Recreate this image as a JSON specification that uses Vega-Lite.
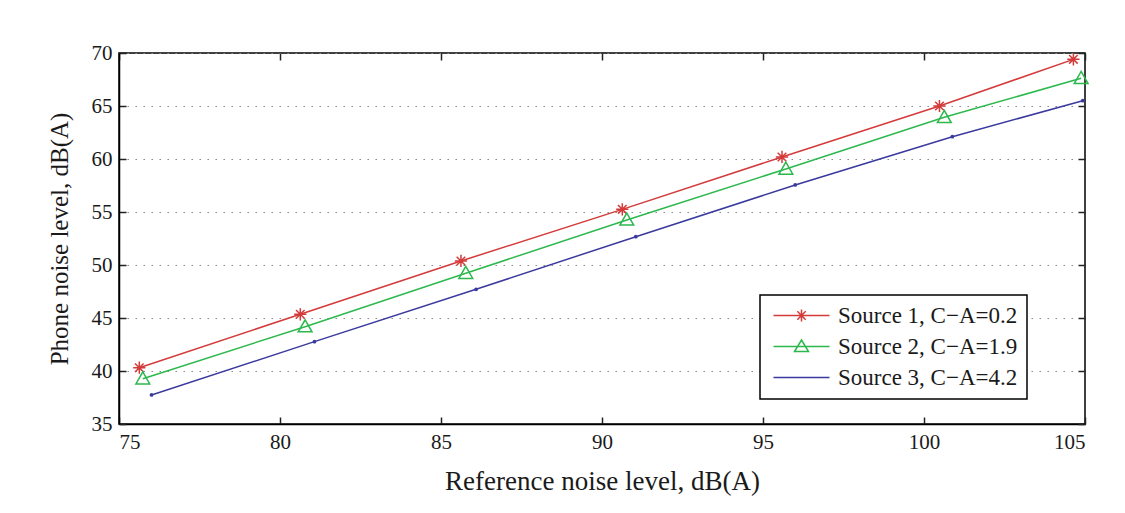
{
  "$schema": "https://vega.github.io/schema/vega-lite/v6.json",
  "width": 966,
  "height": 371,
  "autosize": "none",
  "padding": {"left": 119, "top": 53, "right": 40, "bottom": 89},
  "background": "white",
  "config": {
    "view": {"stroke": "black", "strokeWidth": 1.5},
    "font": "Liberation Serif",
    "axis": {
      "labelFont": "Liberation Serif",
      "labelFontSize": 21,
      "labelColor": "#1a1a1a",
      "titleFont": "Liberation Serif",
      "titleFontWeight": "normal",
      "titleColor": "#1a1a1a",
      "domainColor": "black",
      "domainWidth": 1.5,
      "tickColor": "#222",
      "tickWidth": 1.5,
      "tickSize": -7,
      "labelPadding": 14
    },
    "legend": {
      "labelFont": "Liberation Serif",
      "labelFontSize": 23,
      "labelColor": "#1a1a1a",
      "labelLimit": 400
    }
  },
  "data": {
    "values": [
      {"series": "Source 1, C−A=0.2", "x": 75.63, "y": 40.31},
      {"series": "Source 1, C−A=0.2", "x": 80.63, "y": 45.35},
      {"series": "Source 1, C−A=0.2", "x": 85.62, "y": 50.38},
      {"series": "Source 1, C−A=0.2", "x": 90.63, "y": 55.25},
      {"series": "Source 1, C−A=0.2", "x": 95.59, "y": 60.19},
      {"series": "Source 1, C−A=0.2", "x": 100.48, "y": 65.0},
      {"series": "Source 1, C−A=0.2", "x": 104.64, "y": 69.4},
      {"series": "Source 2, C−A=1.9", "x": 75.74, "y": 39.27},
      {"series": "Source 2, C−A=1.9", "x": 80.78, "y": 44.18},
      {"series": "Source 2, C−A=1.9", "x": 85.77, "y": 49.22},
      {"series": "Source 2, C−A=1.9", "x": 90.77, "y": 54.25},
      {"series": "Source 2, C−A=1.9", "x": 95.71, "y": 59.06},
      {"series": "Source 2, C−A=1.9", "x": 100.63, "y": 63.93},
      {"series": "Source 2, C−A=1.9", "x": 104.88, "y": 67.61},
      {"series": "Source 3, C−A=4.2", "x": 76.01, "y": 37.74},
      {"series": "Source 3, C−A=4.2", "x": 81.07, "y": 42.77},
      {"series": "Source 3, C−A=4.2", "x": 86.09, "y": 47.71},
      {"series": "Source 3, C−A=4.2", "x": 91.05, "y": 52.67},
      {"series": "Source 3, C−A=4.2", "x": 96.0, "y": 57.55},
      {"series": "Source 3, C−A=4.2", "x": 100.88, "y": 62.1},
      {"series": "Source 3, C−A=4.2", "x": 104.93, "y": 65.5}
    ]
  },
  "layer": [
    {
      "mark": {"type": "line", "strokeWidth": 1.5},
      "encoding": {
        "x": {
          "field": "x", "type": "quantitative",
          "scale": {"domain": [75, 105], "nice": false, "zero": false},
          "axis": {"values": [75, 80, 85, 90, 95, 100, 105], "grid": false, "title": "Reference noise level, dB(A)", "titleFontSize": 27, "titlePadding": 16}
        },
        "y": {
          "field": "y", "type": "quantitative",
          "scale": {"domain": [35, 70], "nice": false, "zero": false},
          "axis": {"values": [35, 40, 45, 50, 55, 60, 65, 70], "grid": true, "gridDash": [1.5, 6.5], "gridColor": "#888", "gridWidth": 1.2, "title": "Phone noise level, dB(A)", "titleFontSize": 25, "titlePadding": 19}
        },
        "color": {
          "field": "series", "type": "nominal",
          "scale": {"domain": ["Source 1, C−A=0.2", "Source 2, C−A=1.9", "Source 3, C−A=4.2"], "range": ["#d43a3a", "#2db84d", "#3a3a9e"]},
          "legend": {
            "title": null,
            "orient": "none",
            "legendX": 641,
            "legendY": 242,
            "strokeColor": "black",
            "fillColor": "white",
            "padding": 9,
            "symbolSize": 400,
            "symbolStrokeWidth": 1.5,
            "labelOffset": 46,
            "rowPadding": 7,
            "encode": {
              "legend": {"update": {"strokeWidth": {"value": 1.5}}},
              "symbols": {
                "update": {
                  "shape": {"signal": "indexof(datum.value, 'Source 1') === 0 ? 'M-0.7,0L4.9,0M1.5,0L2.7,0M2.1,-0.6L2.1,0.6M1.68,-0.42L2.52,0.42M1.68,0.42L2.52,-0.42' : indexof(datum.value, 'Source 2') === 0 ? 'M-0.7,0L4.9,0M2.1,-0.65L2.8,0.5L1.4,0.5Z' : 'M-0.7,0L4.9,0M2.0,0L2.2,0'"},
                  "fill": {"value": "transparent"},
                  "strokeWidth": {"value": 1.5},
                  "opacity": {"value": 1}
                }
              }
            }
          }
        }
      }
    },
    {
      "transform": [{"filter": "indexof(datum.series, 'Source 1') === 0"}],
      "mark": {"type": "point", "filled": false, "strokeWidth": 1.5, "opacity": 1, "color": "#d43a3a", "size": 150, "shape": "M-1,0L1,0M0,-1L0,1M-0.7,-0.7L0.7,0.7M-0.7,0.7L0.7,-0.7"},
      "encoding": {
        "x": {"field": "x", "type": "quantitative", "axis": null},
        "y": {"field": "y", "type": "quantitative", "axis": null}
      }
    },
    {
      "transform": [{"filter": "indexof(datum.series, 'Source 2') === 0"}],
      "mark": {"type": "point", "filled": false, "strokeWidth": 1.5, "opacity": 1, "color": "#2db84d", "size": 190, "shape": "M0,-1L1,0.75L-1,0.75Z"},
      "encoding": {
        "x": {"field": "x", "type": "quantitative", "axis": null},
        "y": {"field": "y", "type": "quantitative", "axis": null}
      }
    },
    {
      "transform": [{"filter": "indexof(datum.series, 'Source 3') === 0"}],
      "mark": {"type": "point", "filled": true, "opacity": 1, "color": "#3a3a9e", "size": 14, "shape": "circle"},
      "encoding": {
        "x": {"field": "x", "type": "quantitative", "axis": null},
        "y": {"field": "y", "type": "quantitative", "axis": null}
      }
    },
    {
      "mark": {"type": "point", "opacity": 0},
      "encoding": {
        "x": {"field": "x", "type": "quantitative", "axis": {"orient": "top", "values": [75, 80, 85, 90, 95, 100, 105], "labels": false, "title": null, "grid": false, "domain": false}},
        "y": {"field": "y", "type": "quantitative", "axis": {"orient": "right", "values": [35, 40, 45, 50, 55, 60, 65, 70], "labels": false, "title": null, "grid": false, "domain": false}}
      }
    }
  ],
  "resolve": {"axis": {"x": "independent", "y": "independent"}}
}
